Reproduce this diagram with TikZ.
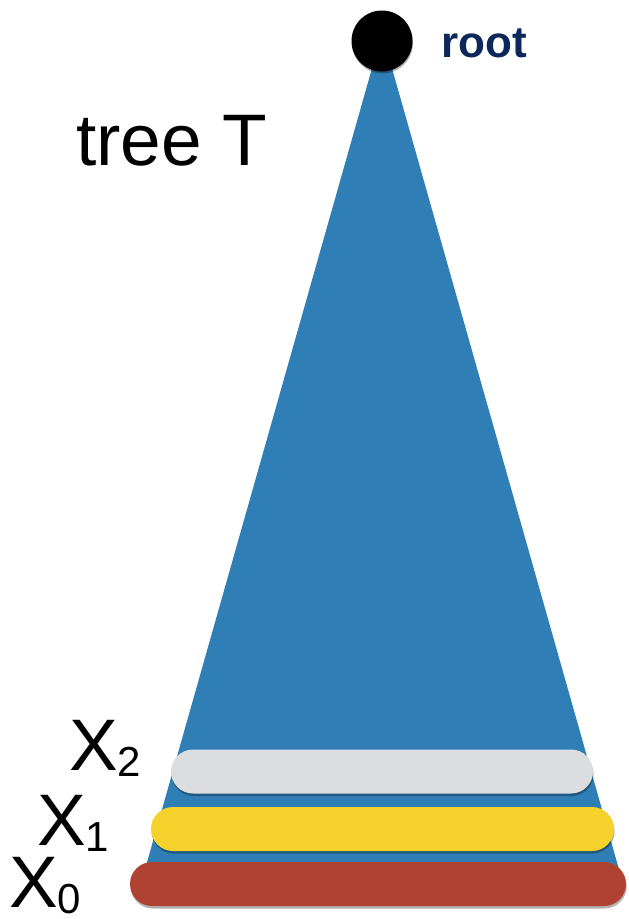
\documentclass[tikz,border=0pt]{standalone}
\usepackage{fontspec}
\setmainfont{Liberation Sans}
\usetikzlibrary{shadows}
\definecolor{treeblue}{RGB}{47,127,182}
\definecolor{barwhite}{RGB}{220,221,223}
\definecolor{baryellow}{RGB}{245,210,43}
\definecolor{barred}{RGB}{176,66,50}
\definecolor{rootnavy}{RGB}{12,40,90}
\tikzset{
  levelbar/.style={draw=none, rectangle, minimum height=44pt, rounded corners=22pt, inner sep=0pt,
    drop shadow={shadow xshift=0.6pt, shadow yshift=-2.5pt, opacity=0.3, fill=black}},
  biglabel/.style={inner sep=0pt, anchor=base west, font=\fontsize{73}{73}\selectfont},
  rootlabel/.style={inner sep=0pt, anchor=base west, text=rootnavy, font=\fontsize{44}{44}\selectfont\bfseries},
}
\newcommand{\lvl}[1]{X\raisebox{-6pt}{\fontsize{42}{42}\selectfont #1}}
\begin{document}
\begin{tikzpicture}[x=1pt,y=-1pt]
\useasboundingbox (0,0) rectangle (629,919);
% tree triangle
\coordinate (apex) at (382,33);
\coordinate (bl) at (142,880);
\coordinate (br) at (622,880);
\fill[treeblue] (apex) -- (br) -- (bl) -- cycle;
% bars
\node[levelbar, fill=barwhite, minimum width=422pt] (x2bar) at (382,771.5) {};
\node[levelbar, fill=baryellow, minimum width=463pt] (x1bar) at (382.5,829) {};
\node[levelbar, fill=barred, minimum width=496pt] (x0bar) at (378,884) {};
% root
\node[circle, fill=black, minimum size=61pt, inner sep=0pt,
  drop shadow={shadow xshift=0.5pt, shadow yshift=-2pt, opacity=0.3, fill=black}] (root) at (382,41) {};
\node[rootlabel] (rootlab) at (441,57) {root};
% labels
\node[biglabel] (treelab) at (76,165) {tree T};
\node[biglabel] (x2lab) at (69,770) {\lvl{2}};
\node[biglabel] (x1lab) at (37,845) {\lvl{1}};
\node[biglabel] (x0lab) at (9,907) {\lvl{0}};
\end{tikzpicture}
\end{document}
